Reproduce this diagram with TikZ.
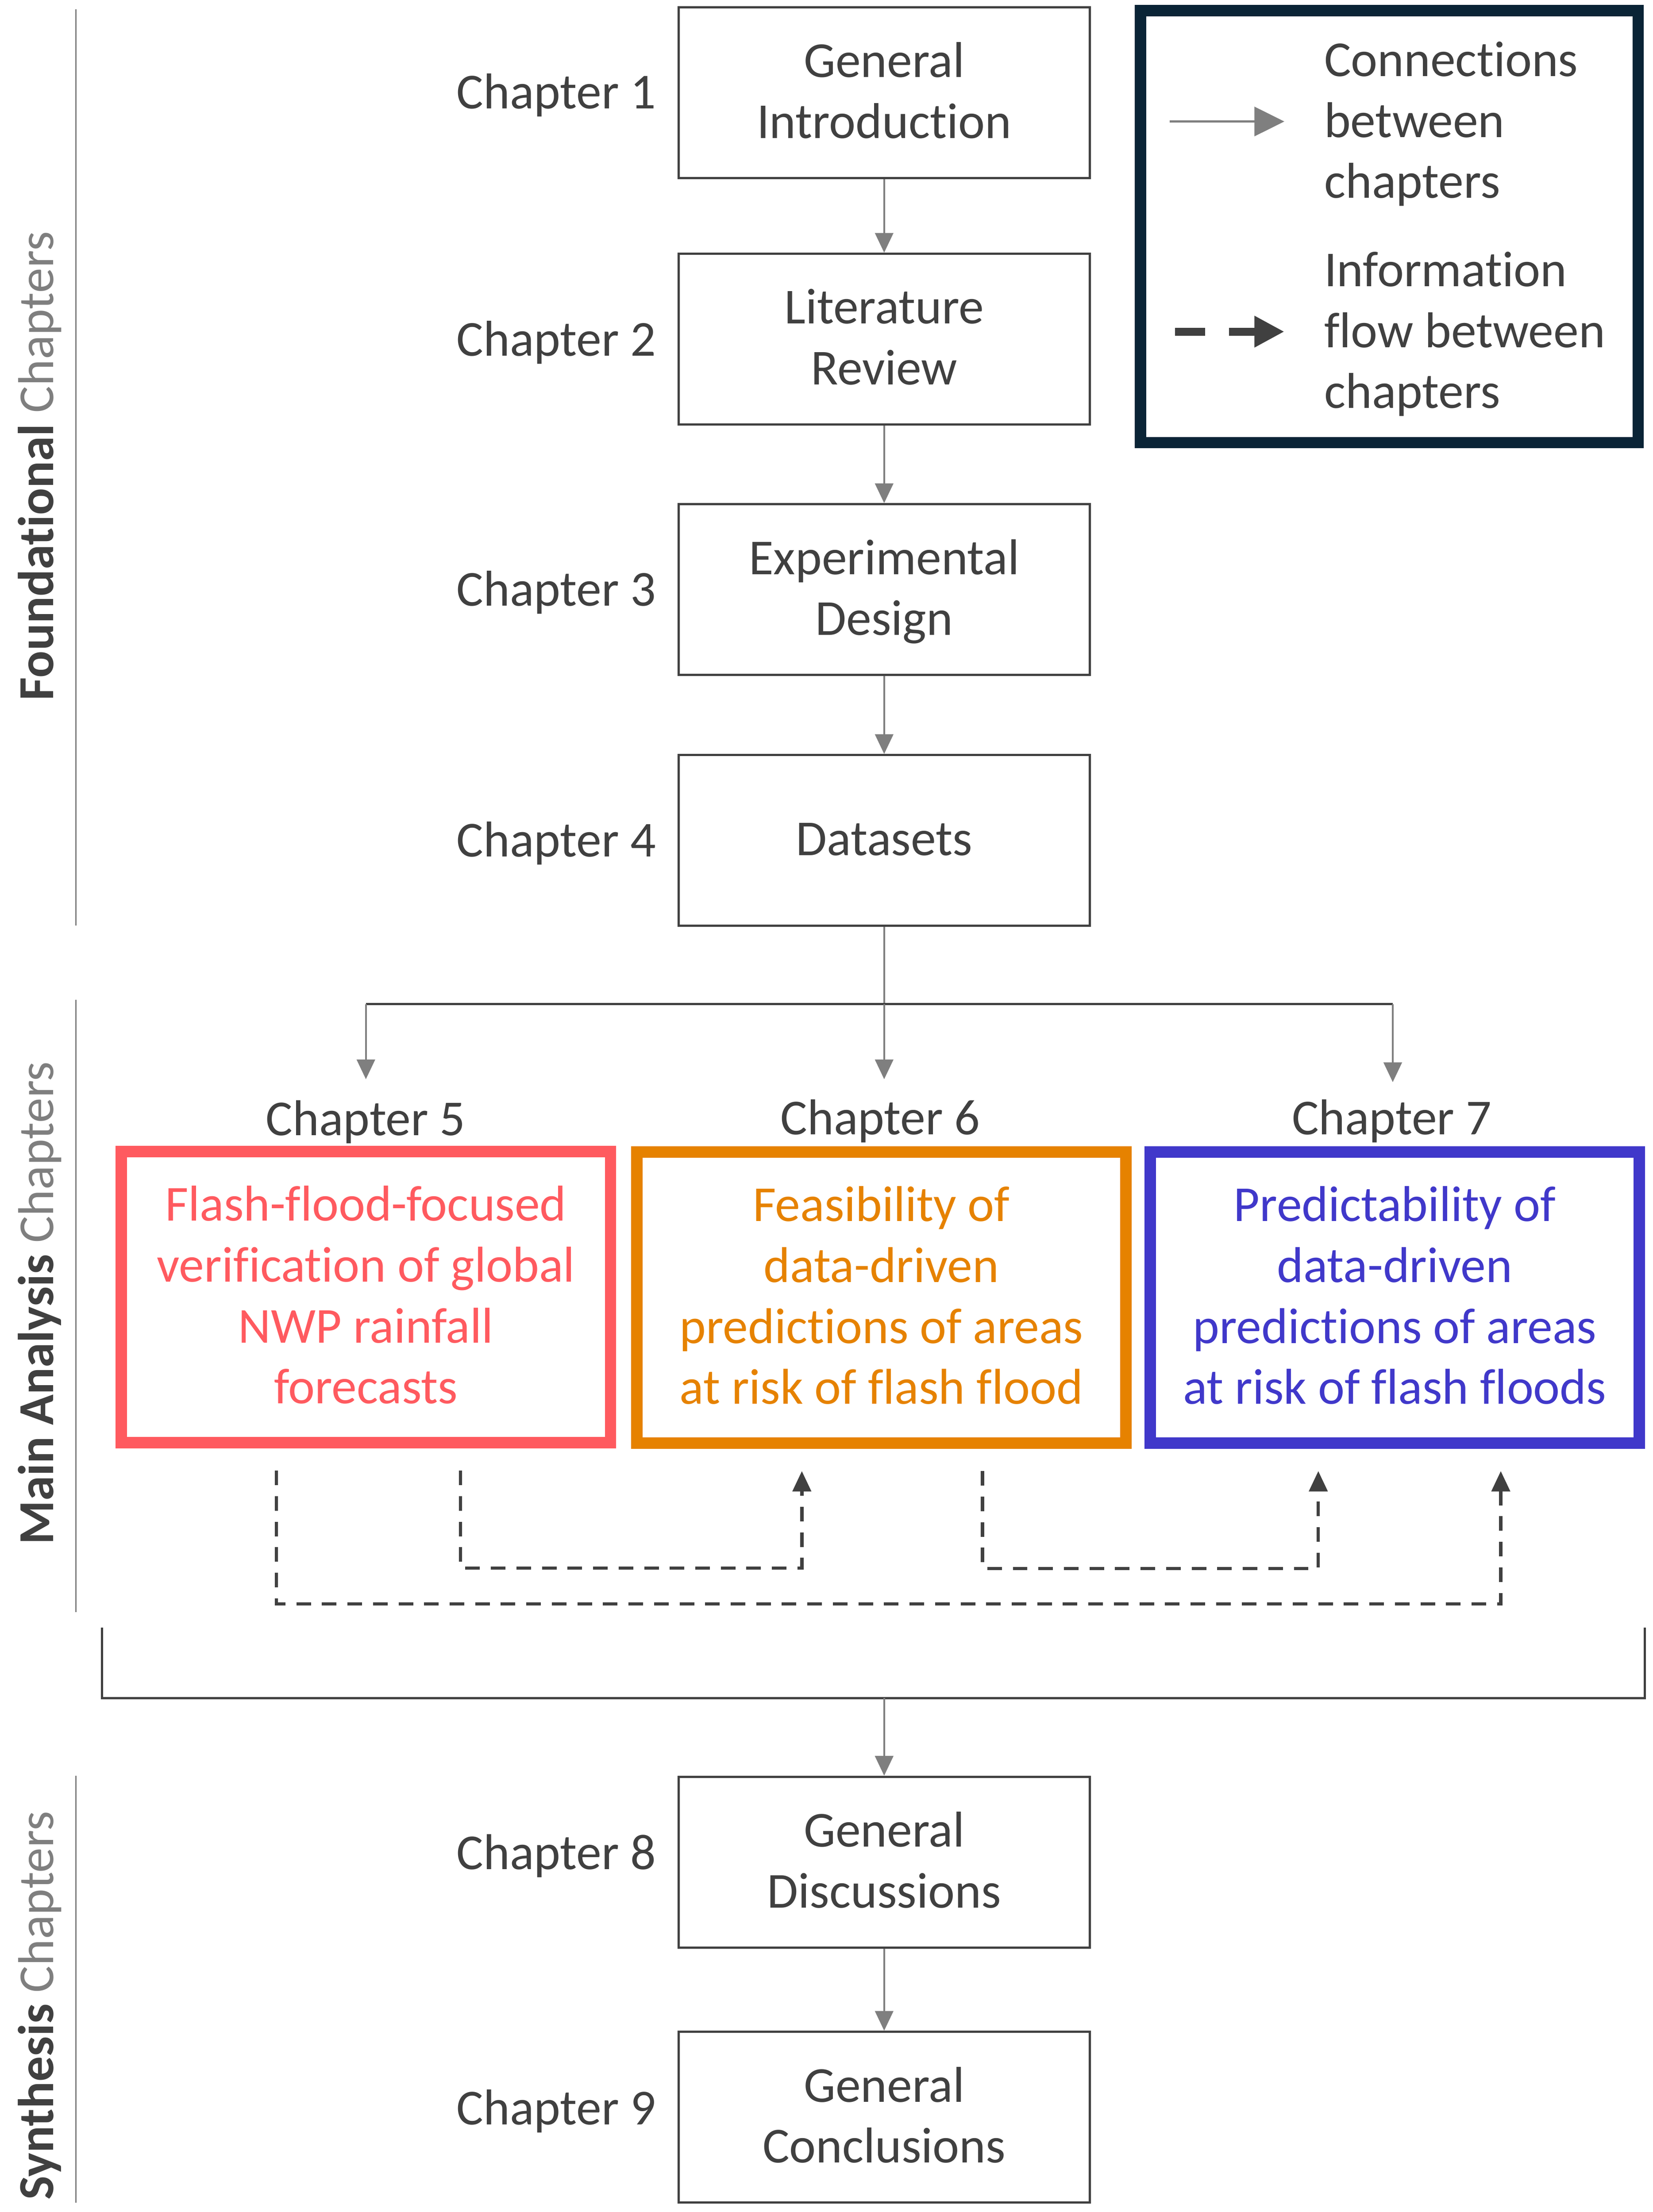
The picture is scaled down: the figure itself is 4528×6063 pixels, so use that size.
\documentclass[tikz,border=0pt]{standalone}
\usepackage{fontspec}
\setmainfont{Carlito}[Ligatures=NoCommon]
\usetikzlibrary{arrows.meta,calc}
\definecolor{txt}{HTML}{404040}
\definecolor{arrgray}{HTML}{7F7F7F}
\definecolor{navy}{HTML}{0A2436}
\definecolor{redc}{HTML}{FF5A5F}
\definecolor{orangec}{HTML}{E68200}
\definecolor{bluec}{HTML}{4038CA}
\newcommand\mystrut{\rule[-42pt]{0pt}{167pt}}
\newcommand\bigfont{\fontsize{138}{167}\selectfont}
\begin{document}
\begin{tikzpicture}[x=1pt,y=-1pt,
  chapbox/.style={draw=txt, line width=6pt, minimum width=1127pt, minimum height=468pt, inner sep=0pt, align=center, text=txt, font=\bigfont},
  mainbox/.style={line width=31pt, minimum width=1340pt, minimum height=798pt, inner sep=0pt, align=center, font=\bigfont},
  chaplabel/.style={anchor=base east, text=txt, font=\bigfont, inner sep=0pt},
  toplabel/.style={anchor=base, text=txt, font=\bigfont, inner sep=0pt},
  legtext/.style={anchor=north west, text=txt, font=\bigfont, align=left, inner sep=0pt},
  conn/.style={draw=arrgray, line width=5pt, -{Triangle[length=54pt,width=50pt]}},
  plainconn/.style={draw=arrgray, line width=5pt},
  bracket/.style={draw=txt, line width=6pt},
  flow/.style={draw=txt, line width=9pt, dash pattern=on 40pt off 30pt, -{Triangle[length=56pt,width=50pt]}},
  sideline/.style={draw=arrgray, line width=4pt},
  sidelabel/.style={rotate=90, anchor=base, font=\bigfont, inner sep=0pt},
]
\path[use as bounding box] (0,0) rectangle (4528,6063);

% side lines and labels
\draw[sideline] (208,25) -- (208,2537);
\draw[sideline] (208,2740) -- (208,4419);
\draw[sideline] (208,4867) -- (208,6038);
\node[sidelabel] (sf) at (146,1277) {\textcolor{txt}{\bfseries Foundational} \textcolor{arrgray}{Chapters}};
\node[sidelabel] (sm) at (146,3572) {\textcolor{txt}{\bfseries Main Analysis} \textcolor{arrgray}{Chapters}};
\node[sidelabel] (ss) at (146,5497) {\textcolor{txt}{\bfseries Synthesis} \textcolor{arrgray}{Chapters}};

% foundational boxes
\node[chapbox] (b1) at (2422.5,254) {\mystrut General\\\mystrut Introduction};
\node[chapbox] (b2) at (2422.5,929.5) {\mystrut Literature\\\mystrut Review};
\node[chapbox] (b3) at (2422.5,1616) {\mystrut Experimental\\\mystrut Design};
\node[chapbox] (b4) at (2422.5,2303.5) {\mystrut Datasets};
\node[chaplabel] (l1) at (1798,298) {Chapter 1};
\node[chaplabel] (l2) at (1798,975) {Chapter 2};
\node[chaplabel] (l3) at (1798,1661) {Chapter 3};
\node[chaplabel] (l4) at (1798,2348) {Chapter 4};

% synthesis boxes
\node[chapbox] (b8) at (2422.5,5104) {\mystrut General\\\mystrut Discussions};
\node[chapbox] (b9) at (2422.5,5803) {\mystrut General\\\mystrut Conclusions};
\node[chaplabel] (l8) at (1798,5124) {Chapter 8};
\node[chaplabel] (l9) at (1798,5823) {Chapter 9};

% main analysis boxes
\node[mainbox, draw=redc, text=redc] (b5) at (1002.5,3555.5) {\mystrut Flash-flood-focused\\\mystrut verification of global\\\mystrut NWP rainfall\\\mystrut forecasts};
\node[mainbox, draw=orangec, text=orangec] (b6) at (2415,3556.5) {\mystrut Feasibility of\\\mystrut data-driven\\\mystrut predictions of areas\\\mystrut at risk of flash flood};
\node[mainbox, draw=bluec, text=bluec] (b7) at (3821.5,3556.5) {\mystrut Predictability of\\\mystrut data-driven\\\mystrut predictions of areas\\\mystrut at risk of flash floods};
\node[toplabel] (l5) at (1002,3112) {Chapter 5};
\node[toplabel] (l6) at (2412,3110) {Chapter 6};
\node[toplabel] (l7) at (3813,3110) {Chapter 7};

% legend
\node[draw=navy, line width=31pt, minimum width=1364pt, minimum height=1184pt, inner sep=0pt] (legend) at (3806.5,621) {};
\node[legtext] (lt1) at (3628,84) {\mystrut Connections\\\mystrut between\\\mystrut chapters};
\node[legtext] (lt2) at (3628,660) {\mystrut Information\\\mystrut flow between\\\mystrut chapters};
\coordinate (la1) at (3205,333);
\coordinate (la2) at (3519,333);
\draw[arrgray, line width=6pt, -{Triangle[length=82pt,width=80pt]}] (la1) -- (la2);
\coordinate (lb1) at (3220,909);
\coordinate (lb2) at (3302,909);
\coordinate (lb3) at (3367,909);
\coordinate (lb4) at (3519,909);
\draw[txt, line width=22pt] (lb1) -- (lb2);
\draw[txt, line width=22pt, -{Triangle[length=82pt,width=81pt]}] (lb3) -- (lb4);

% foundational connectors
\draw[conn] (b1) -- (b2);
\draw[conn] (b2) -- (b3);
\draw[conn] (b3) -- (b4);

% split to chapters 5-7
\coordinate (j5) at (1002.5,2752);
\coordinate (j6) at (2422.5,2752);
\coordinate (j7) at (3816,2752);
\coordinate (t5) at (1002.5,2958);
\coordinate (t6) at (2422.5,2958);
\coordinate (t7) at (3816,2966);
\draw[plainconn] (b4) -- (j6);
\draw[draw=txt, line width=5pt] (j5) -- (j7);
\draw[conn] (j5) -- (t5);
\draw[conn] (j6) -- (t6);
\draw[conn] (j7) -- (t7);

% information flow
\coordinate (f1s) at ([xshift=-245.5pt,yshift=-61pt]b5.south);
\coordinate (f1e) at ([xshift=290.5pt,yshift=-61pt]b7.south);
\coordinate (f2s) at ([xshift=259.5pt,yshift=-61pt]b5.south);
\coordinate (f2e) at ([xshift=-218pt,yshift=-61pt]b6.south);
\coordinate (f3s) at ([xshift=277pt,yshift=-61pt]b6.south);
\coordinate (f3e) at ([xshift=-209.5pt,yshift=-61pt]b7.south);
\draw[flow] (f1s) -- ++(0,365) -| (f1e);
\draw[flow] (f2s) -- ++(0,267) -| (f2e);
\draw[flow] (f3s) -- ++(0,267) -| (f3e);

% bracket to synthesis
\coordinate (k1) at (279,4461);
\coordinate (k2) at (279,4654);
\coordinate (k3) at (4506,4654);
\coordinate (k4) at (4506,4461);
\coordinate (k0) at (2422.5,4654);
\draw[bracket] (k1) -- (k2) -- (k3) -- (k4);
\draw[conn] (k0) -- (b8);
\draw[conn] (b8) -- (b9);
\end{tikzpicture}
\end{document}
